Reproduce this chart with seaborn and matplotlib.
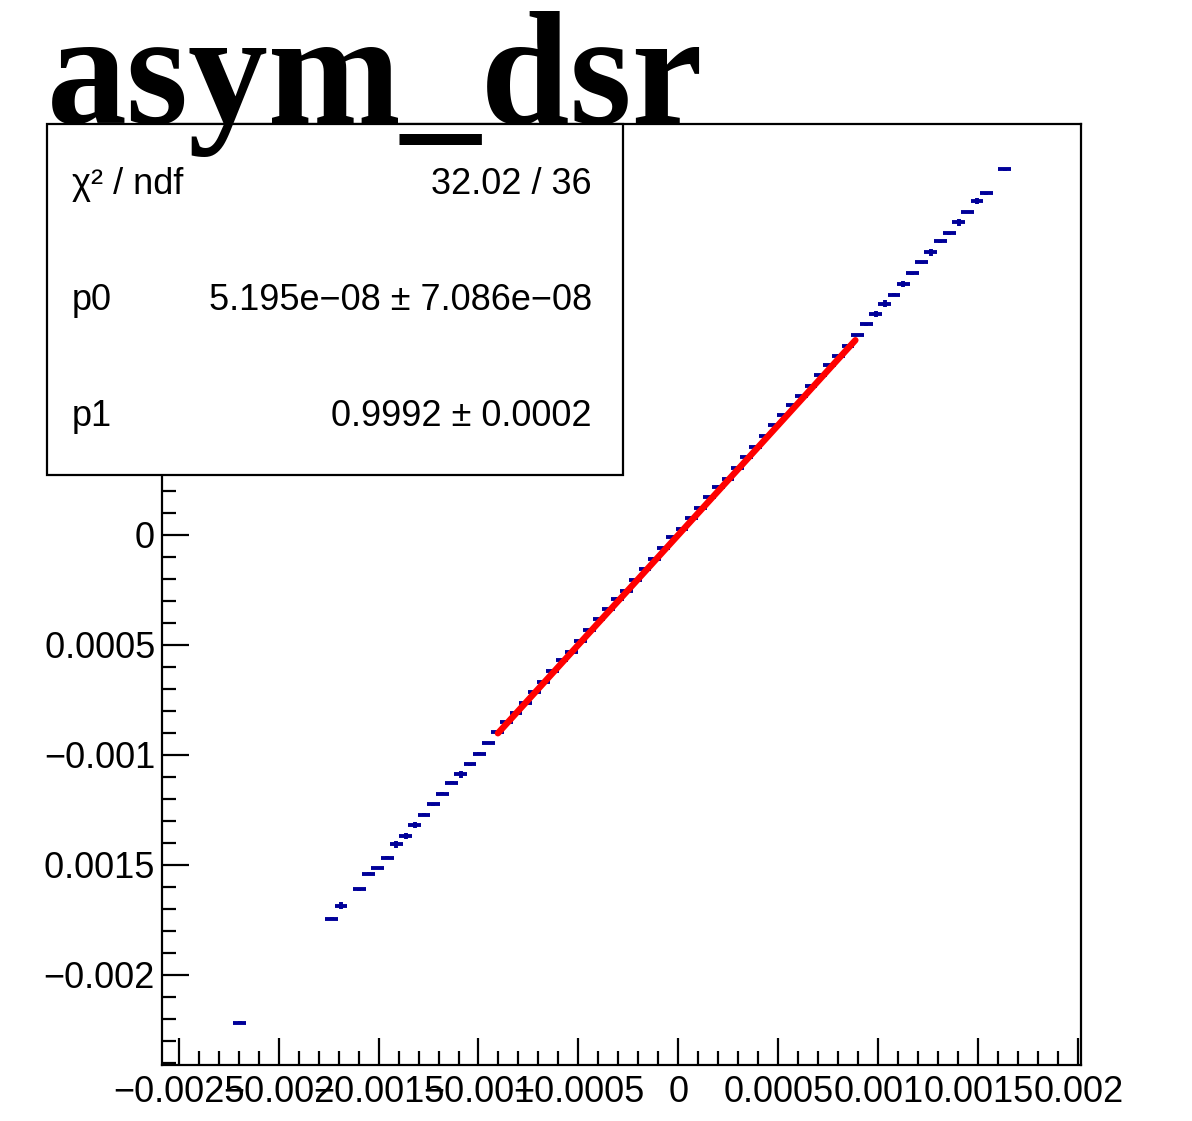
"""
Recreate the ROOT-style asym_dsr profile with its linear fit.
"""

import matplotlib

matplotlib.use("Agg")

import matplotlib.pyplot as plt
import numpy as np
import pandas as pd
import seaborn as sns
from matplotlib.patches import Rectangle
from matplotlib.ticker import FixedFormatter, FixedLocator, MultipleLocator
from matplotlib.transforms import Bbox, TransformedBbox

# bin centres
X_VALUES = [
    -0.002195,
    -0.001734, -0.001688,
    -0.001596, -0.001550, -0.001504, -0.001457, -0.001411, -0.001365,
    -0.001319, -0.001273, -0.001227, -0.001181, -0.001135, -0.001089,
    -0.001043, -0.000996, -0.000950, -0.000904, -0.000858, -0.000812,
    -0.000766, -0.000720, -0.000674, -0.000628, -0.000582, -0.000535,
    -0.000489, -0.000443, -0.000397, -0.000351, -0.000305, -0.000259,
    -0.000213, -0.000167, -0.000121, -0.000074, -0.000028, 0.000018,
    0.000064, 0.000110, 0.000156, 0.000202, 0.000248, 0.000294,
    0.000341, 0.000387, 0.000433, 0.000479, 0.000525, 0.000571,
    0.000617, 0.000663, 0.000709, 0.000755, 0.000802, 0.000848,
    0.000894, 0.000940, 0.000986, 0.001032, 0.001078, 0.001124,
    0.001170, 0.001216, 0.001262, 0.001309, 0.001355, 0.001401,
    0.001447, 0.001493, 0.001539,
    0.001631,
]

Y_VALUES = [
    -0.002218,
    -0.001745, -0.001686,
    -0.001612, -0.001540, -0.001515, -0.001467, -0.001407, -0.001369,
    -0.001319, -0.001272, -0.001225, -0.001176, -0.001127, -0.001089,
    -0.001043, -0.000995, -0.000946, -0.000896, -0.000850, -0.000809,
    -0.000763, -0.000715, -0.000668, -0.000618, -0.000571, -0.000531,
    -0.000483, -0.000433, -0.000384, -0.000339, -0.000290, -0.000254,
    -0.000205, -0.000157, -0.000109, -0.000061, -0.000012, 0.000025,
    0.000075, 0.000122, 0.000170, 0.000219, 0.000254, 0.000302,
    0.000352, 0.000400, 0.000449, 0.000499, 0.000545, 0.000590,
    0.000631, 0.000678, 0.000726, 0.000772, 0.000814, 0.000860,
    0.000908, 0.000957, 0.001003, 0.001050, 0.001092, 0.001139,
    0.001188, 0.001238, 0.001284, 0.001334, 0.001370, 0.001420,
    0.001467, 0.001517, 0.001552,
    0.001661,
]

# vertical errors, in units of 1e-6
Y_ERRORS_E6 = [
    6,
    6, 15,
    6, 6, 6, 6, 15, 15,
    15, 6, 6, 6, 6, 15,
    6, 6, 6, 6, 6, 6,
    6, 6, 6, 6, 6, 6,
    6, 6, 6, 6, 6, 6,
    6, 6, 6, 6, 6, 6,
    6, 6, 6, 6, 6, 6,
    6, 6, 6, 6, 6, 6,
    6, 6, 6, 6, 6, 6,
    6, 6, 15, 15, 6, 15,
    6, 6, 15, 6, 6, 15,
    6, 15, 6,
    6,
]

X_HALF_WIDTH = 0.000032

FIT_P0 = 5.195e-08
FIT_P1 = 0.9992
FIT_LOW = -0.000903
FIT_HIGH = 0.000885

STATS_LABELS = ["χ² / ndf", "p0", "p1"]
STATS_VALUES = ["32.02 / 36", "5.195e−08 ± 7.086e−08", "0.9992 ± 0.0002"]

X_TICKS = [-0.0025, -0.002, -0.0015, -0.001, -0.0005, 0, 0.0005, 0.001, 0.0015, 0.002]
X_TICK_LABELS = ["−0.0025", "−0.002", "−0.0015", "−0.001", "−0.0005",
                 "0", "0.0005", "0.001", "0.0015", "0.002"]
Y_TICKS = [-0.002, -0.0015, -0.001, -0.0005, 0, 0.0005, 0.001, 0.0015]
Y_TICK_LABELS = ["−0.002", "−0.0015", "−0.001", "−0.0005",
                 "0", "0.0005", "0.001", "0.0015"]

FIG_W_PX = 1192
FIG_H_PX = 1121
DPI = 100


def px_x(value):
    return value / FIG_W_PX


def px_y(value):
    return 1 - value / FIG_H_PX


def create_plot() -> None:
    sns.set_style("white")
    plt.rcParams["font.family"] = ["Liberation Sans", "DejaVu Sans"]
    plt.rcParams["text.color"] = "black"
    plt.rcParams["xtick.color"] = "black"
    plt.rcParams["ytick.color"] = "black"
    plt.rcParams["axes.edgecolor"] = "black"

    fig = plt.figure(figsize=(FIG_W_PX / DPI, FIG_H_PX / DPI), dpi=DPI)
    ax = fig.add_axes([
        px_x(162), px_y(1065),
        px_x(1081) - px_x(162), px_y(124) - px_y(1065),
    ])

    points = pd.DataFrame({"x": X_VALUES, "y": Y_VALUES})
    points["yerr"] = np.array(Y_ERRORS_E6) * 1e-6

    ax.errorbar(
        points["x"], points["y"],
        xerr=X_HALF_WIDTH, yerr=points["yerr"],
        fmt="none", ecolor="#000099", elinewidth=2.8, capsize=0, zorder=3,
    )

    fit_x = np.linspace(FIT_LOW, FIT_HIGH, 200)
    fit_frame = pd.DataFrame({"x": fit_x, "y": FIT_P0 + FIT_P1 * fit_x})
    sns.lineplot(data=fit_frame, x="x", y="y", color="red", linewidth=4.6,
                 ax=ax, zorder=4)

    ax.set_xlim(-0.002583, 0.0020135)
    ax.set_ylim(-0.00241, 0.001867)
    ax.set_xlabel("")
    ax.set_ylabel("")

    ax.xaxis.set_major_locator(FixedLocator(X_TICKS))
    ax.xaxis.set_major_formatter(FixedFormatter(X_TICK_LABELS))
    ax.yaxis.set_major_locator(FixedLocator(Y_TICKS))
    ax.yaxis.set_major_formatter(FixedFormatter(Y_TICK_LABELS))
    ax.xaxis.set_minor_locator(MultipleLocator(0.0001))
    ax.yaxis.set_minor_locator(MultipleLocator(0.0001))

    ax.tick_params(which="both", direction="in", top=False, right=False,
                   bottom=True, left=True, width=1.6, colors="black",
                   labelcolor="black", labelsize=26)
    ax.tick_params(which="major", length=19.5)
    ax.tick_params(which="minor", length=10)
    ax.tick_params(axis="x", pad=7)
    ax.tick_params(axis="y", pad=5)

    for spine in ax.spines.values():
        spine.set_linewidth(1.6)
        spine.set_color("black")

    # the pad starts a little right of the image edge: clip the y labels there
    clip = TransformedBbox(Bbox([[px_x(45), 0], [1, 1]]), fig.transFigure)
    for label in ax.get_yticklabels():
        label.set_clip_box(clip)
        label.set_clip_on(True)

    # statistics box
    box = Rectangle(
        (px_x(47), px_y(475)), px_x(623) - px_x(47), px_y(124) - px_y(475),
        transform=fig.transFigure, facecolor="white", edgecolor="black",
        linewidth=1.6, zorder=10,
    )
    fig.add_artist(box)

    row_centres = [185, 300, 416]
    for label, value, centre in zip(STATS_LABELS, STATS_VALUES, row_centres):
        fig.text(px_x(72), px_y(centre), label, ha="left", va="center",
                 fontsize=26, color="black", zorder=11)
        fig.text(px_x(592), px_y(centre), value, ha="right", va="center",
                 fontsize=26, color="black", zorder=11)

    fig.text(px_x(47), px_y(123), "asym_dsr", ha="left", va="baseline",
             fontsize=115, fontweight="bold", family="Liberation Serif",
             color="black", zorder=12)

    fig.savefig("out.png", dpi=DPI)


if __name__ == "__main__":
    create_plot()
